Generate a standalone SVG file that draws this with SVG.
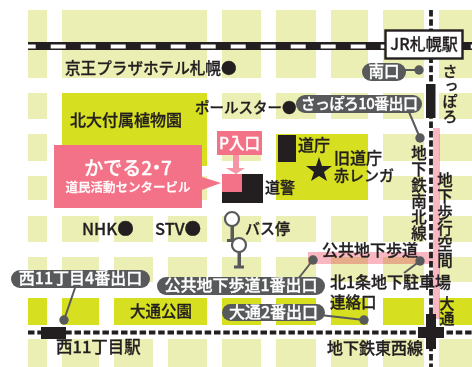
<svg xmlns="http://www.w3.org/2000/svg" width="472" height="367" viewBox="0 0 472 367">
<defs>
<style>
text{font-family:"Noto Sans CJK JP","Noto Sans",sans-serif;font-weight:500;fill:#231f20;stroke:#231f20;stroke-width:.3px;font-size:15px}
.pale{fill:#ecefb3}
.lime{fill:#d6df20}
.pink{fill:#f37287}
.walk{fill:#f9b7c2;mix-blend-mode:multiply}
.k{fill:#231f20}
.pill{fill:#58595b}
.pt{fill:#fff;stroke:#fff;text-anchor:middle}
.w{fill:#fff;stroke:#fff}
.lead{stroke:#58595b;stroke-width:2;fill:none}
.dot{fill:#58595b}
.v{writing-mode:vertical-rl}
.bus{fill:#fff;stroke:#58595b;stroke-width:2.2}
</style>
</defs>
<g id="map-blocks">
<rect class="pale" x="28" y="10" width="19" height="68"/><rect class="pale" x="62" y="10" width="145" height="68"/><rect class="pale" x="222" y="10" width="39" height="68"/><rect class="pale" x="276" y="10" width="40" height="68"/><rect class="pale" x="331" y="10" width="37" height="68"/><rect class="pale" x="383" y="10" width="41" height="68"/><rect class="pale" x="439" y="10" width="33" height="68"/>
<rect class="pale" x="28" y="93" width="19" height="26"/><rect class="pale" x="222" y="93" width="39" height="26"/><rect class="pale" x="276" y="93" width="40" height="26"/><rect class="pale" x="331" y="93" width="37" height="26"/><rect class="pale" x="383" y="93" width="41" height="26"/><rect class="pale" x="439" y="93" width="33" height="26"/>
<rect class="pale" x="28" y="134" width="19" height="27"/><rect class="pale" x="222" y="134" width="39" height="27"/><rect class="pale" x="383" y="134" width="41" height="27"/><rect class="pale" x="439" y="134" width="33" height="27"/>
<rect class="pale" x="28" y="176" width="19" height="24"/><rect class="pale" x="62" y="176" width="145" height="24"/><rect class="pale" x="383" y="176" width="41" height="24"/><rect class="pale" x="439" y="176" width="33" height="24"/>
<rect class="lime" x="62" y="93" width="145" height="73"/><rect class="lime" x="276" y="134" width="92" height="66"/>
<g id="row5"><rect class="pale" x="28" y="216" width="19" height="26"/><rect class="pale" x="62" y="216" width="37" height="26"/><rect class="pale" x="114" y="216" width="39" height="26"/><rect class="pale" x="168" y="216" width="39" height="26"/><rect class="pale" x="222" y="216" width="39" height="26"/><rect class="pale" x="276" y="216" width="40" height="26"/><rect class="pale" x="331" y="216" width="37" height="26"/><rect class="pale" x="383" y="216" width="41" height="26"/><rect class="pale" x="439" y="216" width="33" height="26"/></g>
<g id="row6"><rect class="pale" x="28" y="257" width="19" height="25"/><rect class="pale" x="62" y="257" width="37" height="25"/><rect class="pale" x="114" y="257" width="39" height="25"/><rect class="pale" x="168" y="257" width="39" height="25"/><rect class="pale" x="222" y="257" width="39" height="25"/><rect class="pale" x="276" y="257" width="40" height="25"/><rect class="pale" x="331" y="257" width="37" height="25"/><rect class="pale" x="383" y="257" width="41" height="25"/><rect class="pale" x="439" y="257" width="33" height="25"/></g>
<g id="row7"><rect class="lime" x="28" y="298" width="19" height="27"/><rect class="lime" x="62" y="298" width="37" height="27"/><rect class="lime" x="114" y="298" width="93" height="27"/><rect class="lime" x="222" y="298" width="39" height="27"/><rect class="lime" x="276" y="298" width="40" height="27"/><rect class="lime" x="331" y="298" width="37" height="27"/><rect class="lime" x="383" y="298" width="41" height="27"/><rect class="lime" x="439" y="298" width="33" height="27"/></g>
<g id="row8"><rect class="pale" x="28" y="339" width="19" height="28"/><rect class="pale" x="62" y="339" width="37" height="28"/><rect class="pale" x="114" y="339" width="39" height="28"/><rect class="pale" x="168" y="339" width="39" height="28"/><rect class="pale" x="222" y="339" width="39" height="28"/><rect class="pale" x="276" y="339" width="40" height="28"/><rect class="pale" x="331" y="339" width="37" height="28"/><rect class="pale" x="383" y="339" width="41" height="28"/><rect class="pale" x="439" y="339" width="33" height="28"/></g>
</g>
<g id="connectors">
<rect class="walk" x="308" y="252" width="125" height="12"/>
<rect class="walk" x="433" y="128" width="7" height="191"/>
<rect class="k" x="28" y="42" width="444" height="8"/>
<line x1="20.7" y1="46.5" x2="472" y2="46.5" stroke="#fff" stroke-width="4" stroke-dasharray="15 15"/>
<line x1="431" y1="10" x2="431" y2="367" stroke="#231f20" stroke-width="3.8" stroke-dasharray="6.5 2.8"/>
<line x1="28" y1="332.5" x2="472" y2="332.5" stroke="#231f20" stroke-width="3.8" stroke-dasharray="6.5 2.8"/>
<line class="lead" x1="75" y1="288" x2="64" y2="320"/><circle class="dot" cx="64" cy="320" r="4.7"/>
<line class="lead" x1="400" y1="70" x2="419" y2="70"/><circle class="dot" cx="419" cy="70" r="4.7"/>
<line class="lead" x1="409" y1="112" x2="420" y2="138"/><circle class="dot" cx="420" cy="138" r="4.7"/>
<line class="lead" x1="298" y1="279" x2="313" y2="260"/><circle class="dot" cx="313" cy="260" r="4.7"/>
<line class="lead" x1="404" y1="273" x2="420" y2="261"/><circle class="dot" cx="420" cy="261" r="4.7"/>
<line class="lead" x1="320" y1="315" x2="364" y2="320"/><circle class="dot" cx="364" cy="320" r="4.7"/>
</g>
<g id="station-nishi11"><rect class="k" x="41" y="327" width="25" height="12"/><text x="56" y="353" style="font-size:16.5px">西11丁目駅</text></g>
<g id="station-susukino"><rect class="k" x="426" y="84" width="9.5" height="34"/><text class="v" x="450" y="64" style="font-size:15px">さっぽろ</text></g>
<g id="station-odori"><rect class="k" x="426" y="314" width="10" height="35"/><rect class="k" x="418" y="327" width="26" height="11"/><text class="v" x="447" y="296" style="font-size:15px">大通</text></g>
<g id="jr-sapporo"><rect x="385.500" y="30.500" width="77" height="28" fill="#fff" stroke="#231f20" stroke-width="2.4"/><text x="424" y="50" text-anchor="middle" style="font-size:16px">JR札幌駅</text></g>
<g id="keio"><text x="65" y="74" style="font-size:15.600px">京王プラザホテル札幌●</text></g>
<g id="botanical"><text x="70" y="126" style="font-size:16px">北大付属植物園</text></g>
<g id="pole-town"><text x="195" y="113" style="font-size:14.500px">ポールスター●</text></g>
<g id="kaderu"><polygon class="pink" points="54,145 202,145 202,177 221,183 202,190 202,208 54,208"/><text class="w" x="128" y="175" text-anchor="middle" style="font-size:19px">かでる2<tspan dx="-5">・</tspan><tspan dx="-5">7</tspan></text><text class="w" x="128" y="192" text-anchor="middle" style="font-size:12.500px">道民活動センタービル</text></g>
<g id="p-entrance"><rect class="pink" x="217" y="131" width="45" height="24"/><text class="w" x="239.500" y="149" text-anchor="middle" style="font-size:15.500px">P入口</text><polygon points="233,155 239,155 239,168 245,168 236,174 226,168 233,168" fill="#f595a5"/></g>
<g id="police"><rect class="k" x="222" y="174" width="41" height="29"/><rect class="pink" x="222" y="174" width="20" height="18"/><text x="265" y="193" style="font-size:15px">道警</text></g>
<g id="dochou"><rect class="k" x="278" y="135" width="18" height="27"/><text x="298" y="151" style="font-size:16px">道庁</text></g>
<g id="akarenga"><polygon class="k" points="319,157 322,166 332,166 324,172 327,181 319,176 311,181 314,172 306,166 316,166"/><text x="334" y="164" style="font-size:16px">旧道庁</text><text x="334" y="181" style="font-size:15px">赤レンガ</text></g>
<g id="nhk"><text x="82" y="235" style="font-size:16.500px">NHK●</text></g>
<g id="stv"><text x="155" y="235" style="font-size:16.500px">STV●</text></g>
<g id="bus-stop"><rect x="230.500" y="226" width="3.500" height="15" fill="#58595b"/><rect x="227" y="239" width="10" height="3" fill="#58595b"/><rect x="237.500" y="250" width="3.500" height="17" fill="#58595b"/><rect x="234" y="265.500" width="10" height="3" fill="#58595b"/><circle class="bus" cx="232" cy="219" r="7"/><circle class="bus" cx="239" cy="245" r="7"/><text x="245" y="234" style="font-size:15px">バス停</text></g>
<g id="exit-minami"><rect class="pill" x="362" y="63" width="44" height="18" rx="9"/><text class="pt" x="384" y="77" style="font-size:15.500px">南口</text></g>
<g id="exit-sapporo10"><rect class="pill" x="296" y="95" width="126" height="18" rx="9"/><text class="pt" x="359" y="109" style="font-size:15px;letter-spacing:-.6px">さっぽろ10番出口</text></g>
<g id="exit-nishi11"><rect class="pill" x="11" y="270" width="139" height="18" rx="9"/><text class="pt" x="80.500" y="284" style="font-size:16px">西11丁目4番出口</text></g>
<g id="exit-kokyo1"><rect class="pill" x="157" y="277" width="168" height="18" rx="9"/><text class="pt" x="241" y="291" style="font-size:16px">公共地下歩道1番出口</text></g>
<g id="exit-odori2"><rect class="pill" x="222" y="304" width="103" height="17" rx="8.500"/><text class="pt" x="273.500" y="318" style="font-size:16px">大通2番出口</text></g>
<g id="labels">
<text class="v" x="419" y="145" style="font-size:15.500px;letter-spacing:.5px">地下鉄南北線</text>
<text class="v" x="445" y="172" style="font-size:15.500px;letter-spacing:.5px">地下歩行空間</text>
<text x="322" y="256" style="font-size:16px">公共地下歩道</text>
<text x="330" y="288" style="font-size:16px">北1条地下駐車場</text>
<text x="330" y="308" style="font-size:15.500px">連絡口</text>
<text x="130" y="317" style="font-size:15.500px">大通公園</text>
<text x="327" y="354" style="font-size:16px">地下鉄東西線</text>
</g>
</svg>
